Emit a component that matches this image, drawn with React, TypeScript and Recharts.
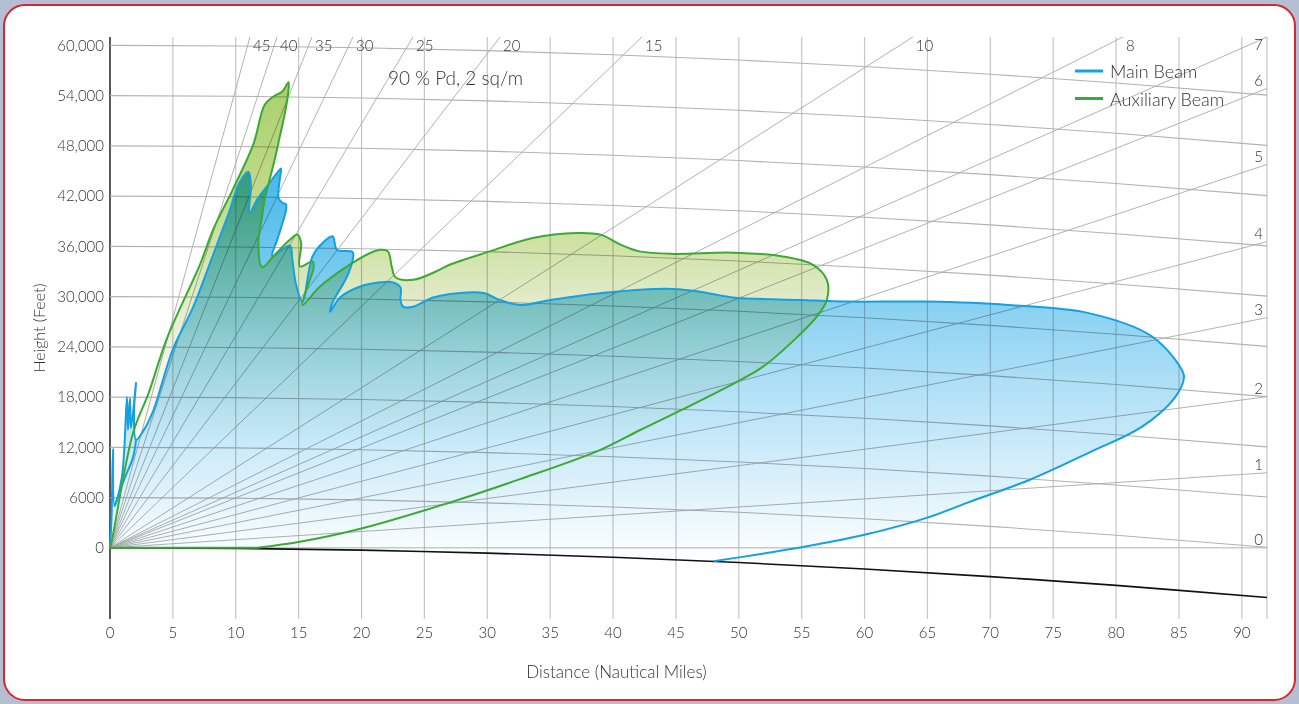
import React from 'react';
import { ScatterChart, Scatter, XAxis, YAxis, CartesianGrid } from 'recharts';

// ---------- data ----------
const xTicks = [0, 5, 10, 15, 20, 25, 30, 35, 40, 45, 50, 55, 60, 65, 70, 75, 80, 85, 90];
const yTicks = [0, 6000, 12000, 18000, 24000, 30000, 36000, 42000, 48000, 54000, 60000];

// earth curvature (height drop, ft)
const earthRange = [0, 10, 20, 30, 40, 50, 60, 70, 80, 92];
const earthDrop = [0, 70, 280, 630, 1120, 1750, 2530, 3440, 4490, 5940];

// constant-height grid curves
const heightLevels = [6000, 12000, 18000, 24000, 30000, 36000, 42000, 48000, 54000, 60000];

// elevation-angle rays (end points)
const angleLabels = ['45', '40', '35', '30', '25', '20', '15', '10', '8', '7', '6', '5', '4', '3', '2', '1', '0'];
const angleEndRange = [11.13, 13.28, 16.06, 19.32, 24.09, 31.01, 42.3, 63.84, 80.54, 92, 92, 92, 92, 92, 92, 92, 92];
const angleEndHeight = [61000, 61000, 61000, 61000, 61000, 61000, 61000, 61000, 61000, 61000, 54860, 45780, 36570, 27490, 18050, 8960, 0];

// Main Beam outline (distance NM, height ft), from the origin round to where it meets the earth
const mainBeamRange = [0, 0.12, 0.24, 0.36, 0.95, 1.35, 1.43, 1.59, 1.67, 2.07, 1.91, 2.07, 2.62, 3.42, 5.0, 6.6, 8.2, 9.4, 10.3, 11.0, 11.2, 11.1, 11.7, 12.6, 13.3, 13.6, 13.5, 13.4, 13.7, 14.0, 14.0, 13.8, 13.3, 12.9, 14.3, 14.5, 14.8, 15.3, 16.1, 16.9, 17.7, 18.05, 19.3, 19.3, 18.85, 17.7, 17.5, 18.3, 19.9, 21.5, 22.5, 23.1, 23.1, 23.3, 24.1, 25.7, 28.4, 29.8, 31.0, 32.6, 35.0, 39.5, 44.3, 46.4, 49.5, 54.9, 58.8, 65.0, 71.4, 77.9, 82.8, 85.1, 85.4, 84.7, 82.1, 77.9, 73.1, 68.2, 65.0, 60.0, 55.2, 48.0];
const mainBeamHeight = [0, 3500, 11800, 5000, 8500, 18000, 14100, 17900, 14300, 19700, 16200, 12900, 13900, 16300, 23700, 28700, 35000, 39800, 43600, 44900, 43400, 40000, 41600, 43400, 44800, 45300, 44000, 41800, 41200, 41000, 40400, 39200, 36800, 34800, 36100, 34400, 31400, 29400, 34800, 36400, 37200, 35600, 35300, 34400, 32400, 29300, 28200, 29900, 31200, 31700, 31700, 31100, 29600, 28800, 28800, 29900, 30500, 30400, 29600, 29000, 29600, 30500, 30950, 30700, 29900, 29600, 29400, 29400, 29000, 28000, 25300, 21600, 20400, 18000, 14500, 11400, 8100, 5400, 3600, 1550, 120, -1600];
// Main Beam base, following the earth back to the origin
const mainBaseRange = [40, 30, 20, 10, 0];
const mainBaseHeight = [-1120, -630, -280, -70, 0];

// Main Beam inner low-lobe edge
const mainInnerRange = [0.36, 1.19, 1.83, 2.07];
const mainInnerHeight = [5000, 8400, 10800, 12900];

// Auxiliary Beam outline (closed back to the origin along 0 ft)
const auxBeamRange = [0, 0.16, 1.83, 3.1, 4.5, 7.2, 8.2, 9.8, 11.4, 12.3, 13.0, 13.7, 14.2, 14.15, 13.84, 13.5, 13.1, 12.7, 12.3, 12.1, 11.8, 12.1, 13.1, 14.3, 14.9, 15.2, 15.1, 16.1, 16.2, 15.7, 15.3, 16.7, 18.85, 20.4, 21.5, 22.1, 22.4, 22.7, 24.1, 26.2, 27.0, 30.2, 33.6, 37.1, 39.0, 40.6, 42.1, 44.8, 49.5, 53.5, 55.9, 57.0, 57.0, 56.2, 54.6, 51.9, 49.7, 45.5, 42.2, 39.0, 32.6, 27.0, 19.6, 15.1, 11.7];
const auxBeamHeight = [0, 960, 13700, 18600, 24900, 34000, 38000, 42900, 48200, 52900, 53900, 54500, 55600, 54100, 51400, 49100, 46400, 44000, 41600, 39600, 36400, 33500, 35000, 36800, 37400, 36400, 33600, 34200, 33500, 31200, 29000, 31200, 33600, 35000, 35600, 35400, 33600, 32300, 32000, 33200, 33800, 35400, 37000, 37600, 37400, 36200, 35400, 35100, 35250, 34800, 33800, 32000, 29600, 27600, 25100, 21600, 19700, 16500, 14100, 11700, 8200, 5400, 2150, 720, 0];

// ---------- derived tables ----------
const zip = (xs: number[], ys: number[]) => xs.map((x, i) => ({ x, y: ys[i] }));
const earthData = zip(earthRange, earthDrop.map((d) => -d));
const heightLineData = heightLevels.map((h) => zip(earthRange, earthDrop.map((d) => h - d)));
const rayData = [{ x: 0, y: 0 }, ...zip(angleEndRange, angleEndHeight)];
const rayLabelData = angleLabels.map((label, i) => ({ x: angleEndRange[i], y: angleEndHeight[i], label }));
const mainOutlineCount = mainBeamRange.length;
const mainData = [...zip(mainBeamRange, mainBeamHeight), ...zip(mainBaseRange, mainBaseHeight)];
const mainInnerData = zip(mainInnerRange, mainInnerHeight);
const auxData = zip(auxBeamRange, auxBeamHeight);

// ---------- drawing helpers ----------
type P = { x: number; y: number };

// centripetal Catmull-Rom through the points (open)
function crPath(pts: P[]): string {
  const n = pts.length;
  if (n < 2) return '';
  const get = (i: number) => pts[Math.max(0, Math.min(n - 1, i))];
  let d = `M${pts[0].x},${pts[0].y}`;
  for (let i = 0; i < n - 1; i++) {
    const p0 = get(i - 1), p1 = get(i), p2 = get(i + 1), p3 = get(i + 2);
    const d01 = Math.hypot(p1.x - p0.x, p1.y - p0.y);
    const d12 = Math.hypot(p2.x - p1.x, p2.y - p1.y);
    const d23 = Math.hypot(p3.x - p2.x, p3.y - p2.y);
    const l01a = Math.sqrt(d01), l12a = Math.sqrt(d12), l23a = Math.sqrt(d23);
    let c1x = p1.x, c1y = p1.y, c2x = p2.x, c2y = p2.y;
    if (l01a > 1e-6) {
      const a = 2 * d01 + 3 * l01a * l12a + d12;
      const nn = 3 * l01a * (l01a + l12a);
      c1x = (p1.x * a - p0.x * d12 + p2.x * d01) / nn;
      c1y = (p1.y * a - p0.y * d12 + p2.y * d01) / nn;
    }
    if (l23a > 1e-6) {
      const b = 2 * d23 + 3 * l23a * l12a + d12;
      const m = 3 * l23a * (l23a + l12a);
      c2x = (p2.x * b + p1.x * d23 - p3.x * d12) / m;
      c2y = (p2.y * b + p1.y * d23 - p3.y * d12) / m;
    }
    d += `C${c1x.toFixed(2)},${c1y.toFixed(2)},${c2x.toFixed(2)},${c2y.toFixed(2)},${p2.x.toFixed(2)},${p2.y.toFixed(2)}`;
  }
  return d;
}

const linTail = (pts: P[]) => pts.map((p) => `L${p.x},${p.y}`).join('');
const linPath = (pts: P[]) => pts.map((p, i) => `${i ? 'L' : 'M'}${p.x},${p.y}`).join('');

const noShape = () => <g />;

const FONT = 'Lato, "Open Sans", sans-serif';
const TEXT = '#333';
const BLUE = '#14a0e3';
const GREEN = '#3da935';

const fmtY = (v: number) => (v >= 10000 ? v.toLocaleString('en-US') : String(v));

const RayLabel = (props: any) => {
  const { cx, cy, payload } = props;
  const top = payload.x < 92;
  if (top) {
    return (
      <text x={cx + 3} y={cy + 14} fontSize={15} fill={TEXT} fontFamily={FONT} fontWeight={300}>
        {payload.label}
      </text>
    );
  }
  return (
    <text x={cx - 8.5} y={Math.max(cy - 2.5, 50)} fontSize={15} fill={TEXT} fontFamily={FONT} fontWeight={300} textAnchor="middle">
      {payload.label}
    </text>
  );
};

export default function App() {
  return (
    <div style={{ position: 'absolute', left: 0, top: 0, width: 1299, height: 704, background: '#b4bfd3', overflow: 'hidden' }}>
      <div
        style={{
          position: 'absolute',
          left: 3,
          top: 4,
          width: 1293,
          height: 697,
          boxSizing: 'border-box',
          border: '2.5px solid #d8262e',
          borderRadius: 22,
          background: '#ffffff',
        }}
      />
      <div style={{ position: 'absolute', left: 0, top: 0 }}>
        <ScatterChart width={1299} height={704} margin={{ top: 37, right: 32, left: 0, bottom: 25 }}>
          <defs>
            <linearGradient id="blueFill" x1="0" y1="0" x2="0" y2="1">
              <stop offset="0" stopColor="#45b7e9" />
              <stop offset="0.5" stopColor="#a6dcf5" />
              <stop offset="1" stopColor="#ffffff" />
            </linearGradient>
            <linearGradient id="greenFill" x1="0" y1="0" x2="0" y2="1">
              <stop offset="0" stopColor="#aad06c" />
              <stop offset="0.25" stopColor="#c1da8c" />
              <stop offset="0.35" stopColor="#d0e2a6" />
              <stop offset="0.45" stopColor="#dfeac4" />
              <stop offset="0.6" stopColor="#f1f6e6" />
              <stop offset="0.78" stopColor="#ffffff" />
              <stop offset="1" stopColor="#ffffff" />
            </linearGradient>
          </defs>
          <CartesianGrid vertical horizontal={false} stroke="#c6c6c6" strokeWidth={1.2} />
          <XAxis
            type="number"
            dataKey="x"
            domain={[0, 92]}
            ticks={xTicks}
            axisLine={false}
            tickLine={false}
            height={60}
            tick={{ fill: TEXT, fontSize: 15, fontFamily: FONT, fontWeight: 300 }}
            label={{ value: 'Distance (Nautical Miles)', position: 'insideBottom', dx: -72, dy: 4, style: { fill: TEXT, fontSize: 17, fontFamily: FONT, fontWeight: 300 } }}
          />
          <YAxis
            type="number"
            dataKey="y"
            domain={[-8500, 61000]}
            ticks={yTicks}
            width={110}
            tickLine={false}
            tickMargin={0}
            axisLine={{ stroke: '#000', strokeWidth: 1.2 }}
            tickFormatter={fmtY}
            tick={{ fill: TEXT, fontSize: 15, fontFamily: FONT, fontWeight: 300 }}
            label={{ value: 'Height (Feet)', angle: -90, position: 'center', dx: -16, dy: 0, style: { fill: TEXT, fontSize: 16, fontFamily: FONT, fontWeight: 300 } }}
          />

          {heightLineData.map((d, i) => (
            <Scatter
              key={'h' + i}
              data={d}
              shape={noShape}
              isAnimationActive={false}
              line={(p: any) => <path d={linPath(p.points)} fill="none" stroke="#b2b2b2" strokeWidth={1.1} />}
            />
          ))}

          <Scatter
            data={rayData}
            shape={noShape}
            isAnimationActive={false}
            line={(p: any) => {
              const pts: P[] = p.points;
              const o = pts[0];
              const d = pts.slice(1).map((q) => `M${o.x},${o.y}L${q.x},${q.y}`).join('');
              return <path d={d} fill="none" stroke="#a9a9a9" strokeWidth={0.9} />;
            }}
          />

          <Scatter
            data={mainData}
            shape={noShape}
            isAnimationActive={false}
            line={(p: any) => {
              const pts: P[] = p.points;
              const d = crPath(pts.slice(0, mainOutlineCount)) + linTail(pts.slice(mainOutlineCount)) + 'Z';
              return <path d={d} fill="url(#blueFill)" stroke="none" style={{ mixBlendMode: 'multiply' }} />;
            }}
          />
          <Scatter
            data={auxData}
            shape={noShape}
            isAnimationActive={false}
            line={(p: any) => <path d={crPath(p.points) + 'Z'} fill="url(#greenFill)" stroke="none" style={{ mixBlendMode: 'multiply' }} />}
          />

          <Scatter
            data={earthData}
            shape={noShape}
            isAnimationActive={false}
            line={(p: any) => <path d={crPath(p.points)} fill="none" stroke="#111" strokeWidth={1.6} />}
          />

          <Scatter
            data={mainData}
            shape={noShape}
            isAnimationActive={false}
            line={(p: any) => <path d={crPath(p.points.slice(0, mainOutlineCount))} fill="none" stroke={BLUE} strokeWidth={2} strokeLinejoin="round" />}
          />
          <Scatter
            data={mainInnerData}
            shape={noShape}
            isAnimationActive={false}
            line={(p: any) => <path d={crPath(p.points)} fill="none" stroke={BLUE} strokeWidth={2} />}
          />
          <Scatter
            data={auxData}
            shape={noShape}
            isAnimationActive={false}
            line={(p: any) => <path d={crPath(p.points) + 'Z'} fill="none" stroke={GREEN} strokeWidth={2} strokeLinejoin="round" />}
          />

          <Scatter data={rayLabelData} shape={RayLabel} isAnimationActive={false} />
        </ScatterChart>
      </div>
      <svg width={1299} height={704} style={{ position: 'absolute', left: 0, top: 0, pointerEvents: 'none' }}>
        <text x={388} y={85} fontSize={19} fill={TEXT} fontFamily={FONT} fontWeight={300}>
          90 % Pd, 2 sq/m
        </text>
        <line x1={1075} x2={1103} y1={71} y2={71} stroke={BLUE} strokeWidth={3} />
        <text x={1110} y={78} fontSize={18} fill={TEXT} fontFamily={FONT} fontWeight={300}>
          Main Beam
        </text>
        <line x1={1075} x2={1103} y1={98.5} y2={98.5} stroke={GREEN} strokeWidth={3} />
        <text x={1110} y={105.5} fontSize={18} fill={TEXT} fontFamily={FONT} fontWeight={300}>
          Auxiliary Beam
        </text>
      </svg>
    </div>
  );
}
